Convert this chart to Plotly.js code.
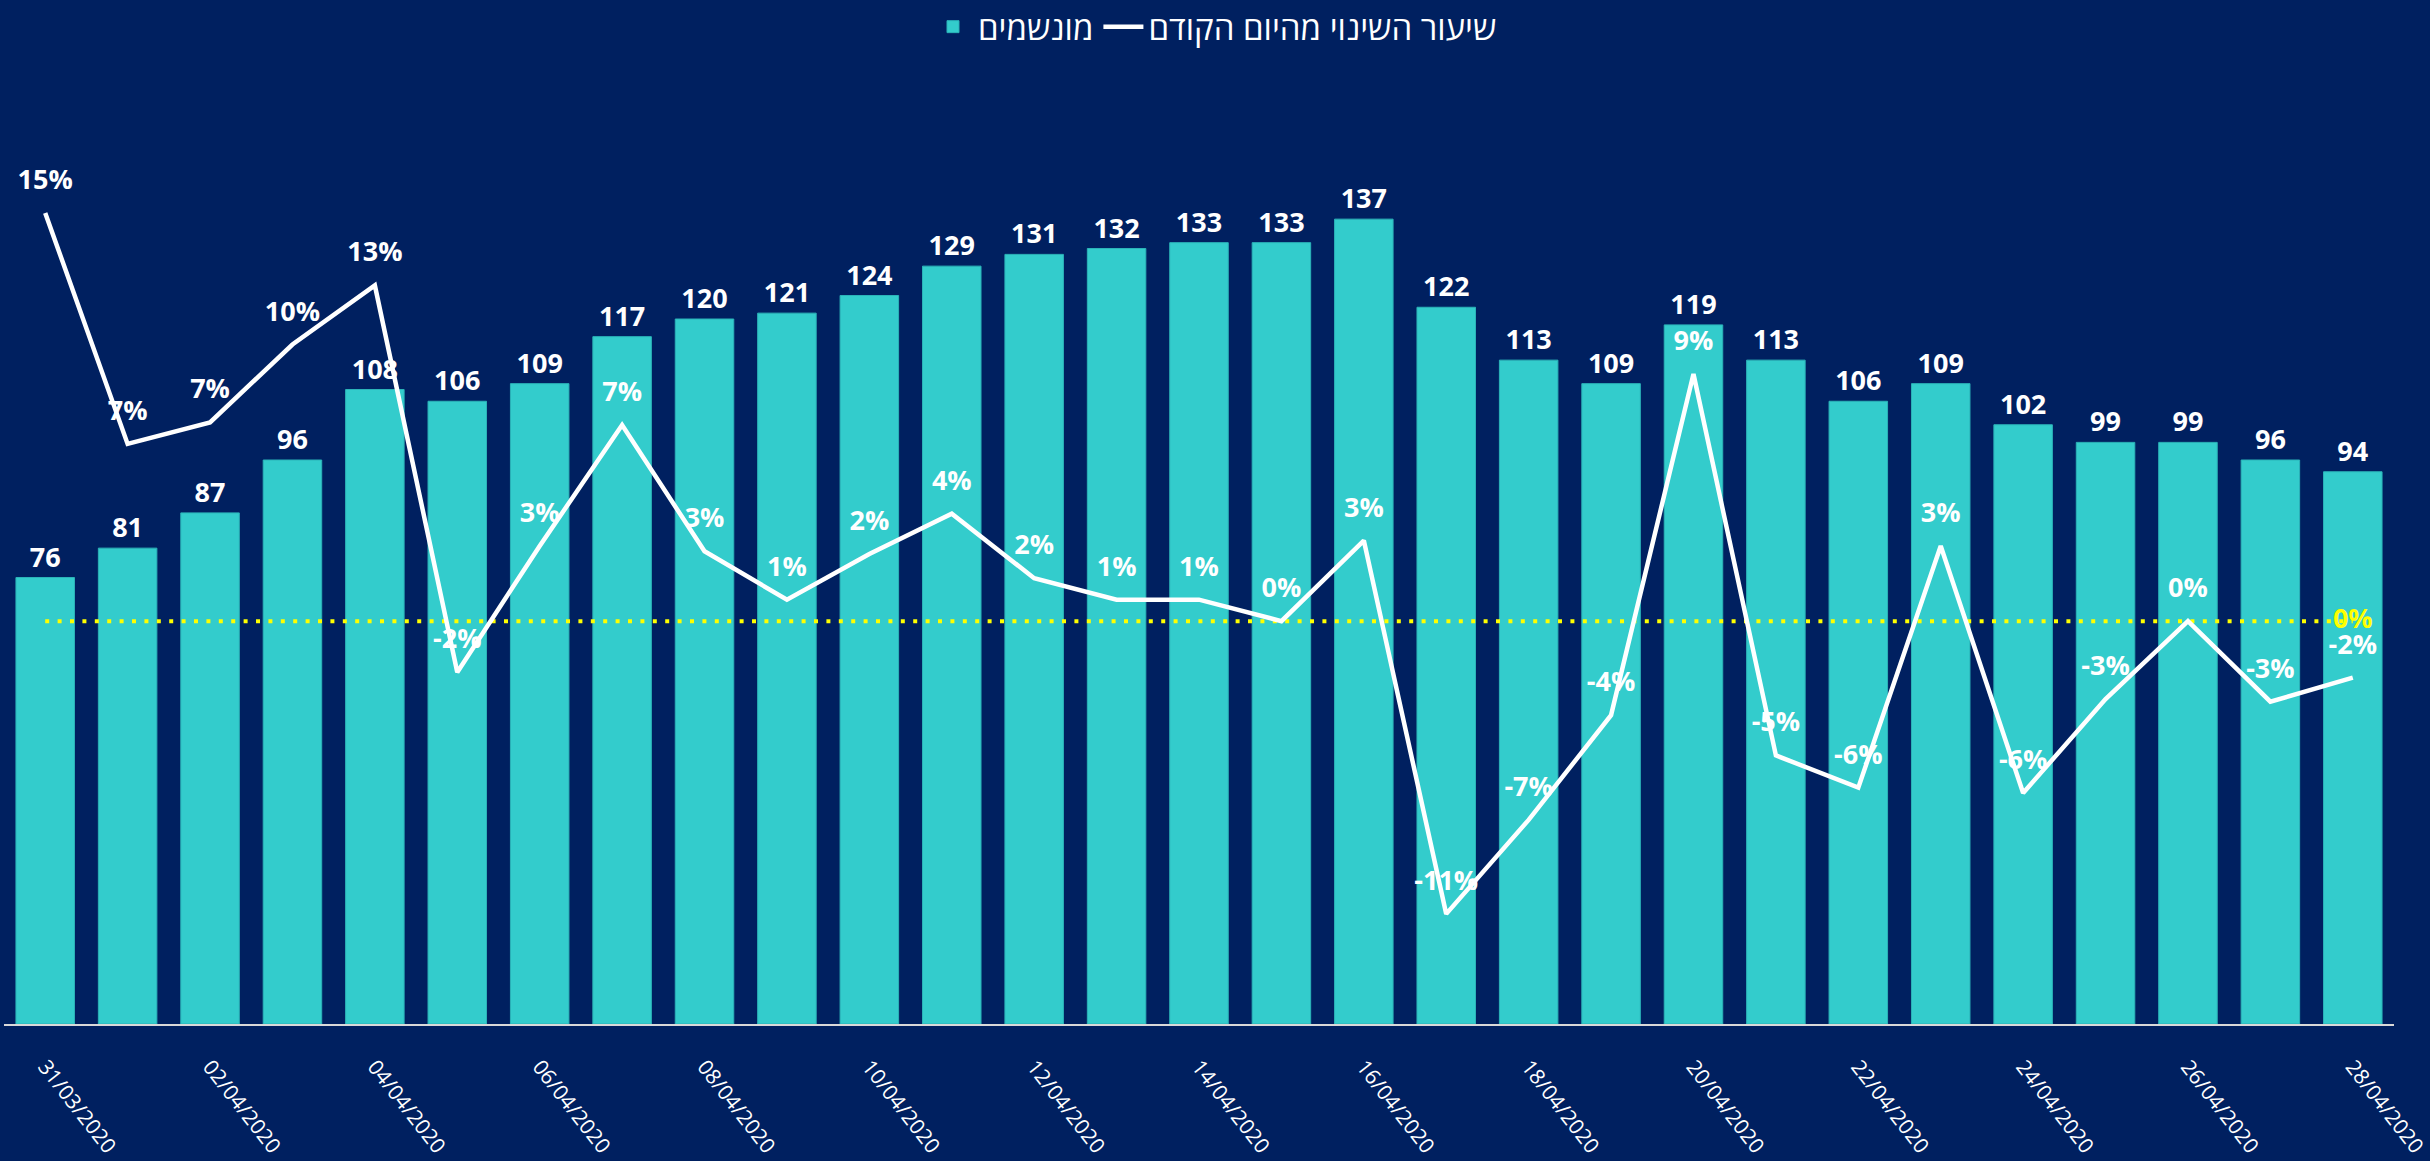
<!DOCTYPE html>
<html>
<head>
<meta charset="utf-8">
<script src="https://cdn.plot.ly/plotly-3.0.1.min.js"></script>
<style>
  html, body { margin: 0; padding: 0; background: #002060; }
  #chart { width: 2430px; height: 1161px; }
</style>
</head>
<body>
<div id="chart"></div>
<script>
const dates = ["31/03/2020","01/04/2020","02/04/2020","03/04/2020","04/04/2020","05/04/2020","06/04/2020","07/04/2020","08/04/2020","09/04/2020","10/04/2020","11/04/2020","12/04/2020","13/04/2020","14/04/2020","15/04/2020","16/04/2020","17/04/2020","18/04/2020","19/04/2020","20/04/2020","21/04/2020","22/04/2020","23/04/2020","24/04/2020","25/04/2020","26/04/2020","27/04/2020","28/04/2020"];
const ventilated = [76,81,87,96,108,106,109,117,120,121,124,129,131,132,133,133,137,122,113,109,119,113,106,109,102,99,99,96,94];
const dailyChange = [0.152,0.066,0.074,0.103,0.125,-0.019,0.028,0.073,0.026,0.008,0.025,0.040,0.016,0.008,0.008,0.000,0.030,-0.109,-0.074,-0.035,0.092,-0.050,-0.062,0.028,-0.064,-0.029,0.000,-0.030,-0.021];
const dailyChangeLabels = ["15%","7%","7%","10%","13%","-2%","3%","7%","3%","1%","2%","4%","2%","1%","1%","0%","3%","-11%","-7%","-4%","9%","-5%","-6%","3%","-6%","-3%","0%","-3%","-2%"];
const zeroRef = [0,0,0,0,0,0,0,0,0,0,0,0,0,0,0,0,0,0,0,0,0,0,0,0,0,0,0,0,0];
const zeroRefLabels = ["","","","","","","","","","","","","","","","","","","","","","","","","","","","","0%"];
const tickDates = ["31/03/2020","02/04/2020","04/04/2020","06/04/2020","08/04/2020","10/04/2020","12/04/2020","14/04/2020","16/04/2020","18/04/2020","20/04/2020","22/04/2020","24/04/2020","26/04/2020","28/04/2020"];

const FONT = "'Open Sans', 'DejaVu Sans', sans-serif";

const traces = [
  {
    type: 'bar',
    name: 'מונשמים',
    x: dates,
    y: ventilated,
    text: ventilated.map(String),
    textposition: 'outside',
    constraintext: 'none',
    cliponaxis: false,
    textfont: { family: FONT, size: 27, color: '#ffffff', weight: 700 },
    marker: { color: '#33CCCC', line: { color: '#2BB3B8', width: 1 } },
    hoverinfo: 'x+y'
  },
  {
    type: 'scatter',
    mode: 'lines+text',
    name: 'zero',
    showlegend: false,
    x: dates,
    y: zeroRef,
    yaxis: 'y2',
    text: zeroRefLabels,
    textposition: 'middle center',
    cliponaxis: false,
    textfont: { family: FONT, size: 27, color: '#FFFF00', weight: 700 },
    line: { color: '#FFFF00', width: 4, dash: '4px,8.4px' },
    hoverinfo: 'skip'
  },
  {
    type: 'scatter',
    mode: 'lines+markers+text',
    name: 'שיעור השינוי מהיום הקודם',
    x: dates,
    y: dailyChange,
    yaxis: 'y2',
    text: dailyChangeLabels,
    textposition: 'top center',
    cliponaxis: false,
    textfont: { family: FONT, size: 27, color: '#ffffff', weight: 700 },
    line: { color: '#ffffff', width: 4.5 },
    marker: { size: 26, color: 'rgba(0,0,0,0)' },
    hoverinfo: 'x+y'
  }
];

const layout = {
  width: 2430,
  height: 1161,
  paper_bgcolor: '#002060',
  plot_bgcolor: '#002060',
  margin: { l: 4, r: 36, t: 84, b: 137 },
  bargap: 0.29,
  font: { family: FONT, color: '#ffffff' },
  showlegend: true,
  legend: {
    orientation: 'h',
    xref: 'container',
    yref: 'container',
    x: 0.5, xanchor: 'center',
    y: 0.977, yanchor: 'middle',
    font: { family: FONT, size: 33, color: '#ffffff' },
    bgcolor: 'rgba(0,0,0,0)',
    itemwidth: 40,
    traceorder: 'normal'
  },
  xaxis: {
    type: 'category',
    range: [-0.5, 28.5],
    tickmode: 'array',
    tickvals: tickDates,
    ticktext: tickDates,
    tickangle: 52,
    tickfont: { family: FONT, size: 21, color: '#ffffff' },
    ticks: '',
    ticklabelstandoff: 20,
    showline: true,
    linecolor: '#d9d9d9',
    linewidth: 2,
    showgrid: false,
    zeroline: false,
    automargin: false
  },
  yaxis: {
    range: [0, 160],
    visible: false,
    showgrid: false,
    zeroline: false,
    fixedrange: true
  },
  yaxis2: {
    range: [-0.15, 0.20],
    overlaying: 'y',
    side: 'right',
    visible: false,
    showgrid: false,
    zeroline: false,
    fixedrange: true
  }
};

Plotly.newPlot('chart', traces, layout, { displayModeBar: false, staticPlot: true });
</script>
</body>
</html>
